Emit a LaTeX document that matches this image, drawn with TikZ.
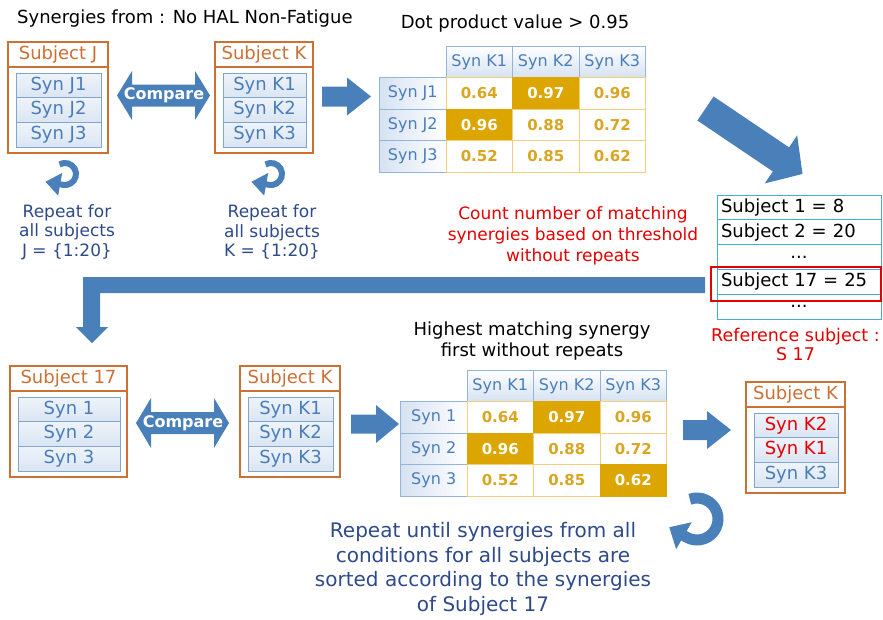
\documentclass[tikz,border=0pt]{standalone}
\usepackage{fontspec}
\setmainfont{DejaVu Sans}
\usetikzlibrary{arrows.meta,calc}

\definecolor{orng}{RGB}{204,112,52}
\definecolor{synblue}{RGB}{74,126,187}
\definecolor{synborder}{RGB}{130,165,205}
\definecolor{synfill}{RGB}{218,229,243}
\definecolor{tblborder}{RGB}{150,180,215}
\definecolor{hfill}{RGB}{214,226,242}
\definecolor{arrowblue}{RGB}{74,128,186}
\definecolor{gold}{RGB}{218,165,32}
\definecolor{goldfill}{RGB}{220,165,0}
\definecolor{goldborder}{RGB}{242,208,120}
\definecolor{navytext}{RGB}{46,74,138}
\definecolor{redtext}{RGB}{230,0,0}
\definecolor{cyanborder}{RGB}{70,170,220}

\tikzset{
  subjouter/.style={draw=orng, line width=2pt, minimum height=111pt, inner sep=0pt, outer sep=0pt},
  subjtitle/.style={text=orng, minimum height=25pt, inner sep=0pt, font=\fontsize{18}{21}\selectfont},
  synrow/.style={draw=synborder, line width=0.9pt, top color=white!55!synfill, bottom color=synfill, text=synblue, minimum height=24.7pt, inner sep=0pt, outer sep=0pt, font=\fontsize{18}{21}\selectfont},
  hcell/.style={draw=tblborder, line width=0.9pt, top color=white, bottom color=hfill, text=synblue, minimum width=66.5pt, minimum height=31.5pt, inner sep=0pt, outer sep=0pt, font=\fontsize{16}{19}\selectfont},
  rcell/.style={hcell, left color=hfill, right color=white},
  vcell/.style={draw=goldborder, line width=0.9pt, fill=white, text=gold, minimum width=66.5pt, minimum height=31.5pt, inner sep=0pt, outer sep=0pt, font=\bfseries\fontsize{15}{18}\selectfont},
  hicell/.style={vcell, draw=goldfill, fill=goldfill, text=white},
  blackttl/.style={text=black, inner sep=0pt, font=\fontsize{18}{21}\selectfont},
  repeattxt/.style={text=navytext, align=center, inner sep=0pt, font=\fontsize{17}{19.5}\selectfont},
  redtxt/.style={text=redtext, align=center, inner sep=0pt, font=\fontsize{17}{21}\selectfont},
  listrow/.style={draw=cyanborder, line width=0.9pt, minimum width=164pt, minimum height=24.8pt, inner sep=0pt, outer sep=0pt, text width=156pt, align=left, font=\fontsize{18}{21}\selectfont},
  listdots/.style={listrow, align=center},
  cmptxt/.style={text=white, inner sep=0pt, font=\bfseries\fontsize{16}{19}\selectfont},
  circsmall/.style={draw=arrowblue, line width=6pt, -{Triangle[width=22pt,length=15pt]}},
  circbig/.style={draw=arrowblue, line width=11pt, -{Triangle[width=30pt,length=17pt]}},
}

% subject box: name, x, y (top-left), outer width, title, rows
\newcommand\SubjBox[8]{%
  \node[subjouter, minimum width=#4pt, anchor=north west] (#1) at (#2,#3) {};
  \node[subjtitle, anchor=north] (#1-t) at (#1.north) {#5};
  \draw[draw=orng, line width=2pt] ([yshift=-25pt]#1.north west) -- ([yshift=-25pt]#1.north east);
  \node[synrow, minimum width=#4pt-15pt, anchor=north] (#1-1) at ([yshift=-31pt,xshift=0.5pt]#1.north) {#6};
  \node[synrow, minimum width=#4pt-15pt, anchor=north] (#1-2) at (#1-1.south) {#7};
  \node[synrow, minimum width=#4pt-15pt, anchor=north] (#1-3) at (#1-2.south) {#8};
}

% dot-product table: name, x0, y0, row labels, style of cell (3,3)
\newcommand\DotTable[7]{%
  \node[hcell] (#1-h1) at ({#2+33.25},{#3+15.75}) {Syn K1};
  \node[hcell] (#1-h2) at ({#2+99.75},{#3+15.75}) {Syn K2};
  \node[hcell] (#1-h3) at ({#2+166.25},{#3+15.75}) {Syn K3};
  \node[rcell] (#1-r1) at ({#2-33.25},{#3+47.25}) {#4};
  \node[rcell] (#1-r2) at ({#2-33.25},{#3+78.75}) {#5};
  \node[rcell] (#1-r3) at ({#2-33.25},{#3+110.25}) {#6};
  \node[vcell]  (#1-11) at ({#2+33.25},{#3+47.25}) {0.64};
  \node[hicell] (#1-12) at ({#2+99.75},{#3+47.25}) {0.97};
  \node[vcell]  (#1-13) at ({#2+166.25},{#3+47.25}) {0.96};
  \node[hicell] (#1-21) at ({#2+33.25},{#3+78.75}) {0.96};
  \node[vcell]  (#1-22) at ({#2+99.75},{#3+78.75}) {0.88};
  \node[vcell]  (#1-23) at ({#2+166.25},{#3+78.75}) {0.72};
  \node[vcell]  (#1-31) at ({#2+33.25},{#3+110.25}) {0.52};
  \node[vcell]  (#1-32) at ({#2+99.75},{#3+110.25}) {0.85};
  \node[#7]     (#1-33) at ({#2+166.25},{#3+110.25}) {0.62};
}

% block arrow: x, y (tail centre), angle, length, shaft, head width, head length
\newcommand\BlockArrow[7]{%
  \fill[arrowblue, shift={(#1,#2)}, rotate=#3]
    (0,{-#5/2}) -- ({#4-#7},{-#5/2}) -- ({#4-#7},{-#6/2}) -- (#4,0)
    -- ({#4-#7},{#6/2}) -- ({#4-#7},{#5/2}) -- (0,{#5/2}) -- cycle;
}

% double arrow: x, y (left tip), length, shaft, head width, head length
\newcommand\DblArrow[6]{%
  \fill[arrowblue, shift={(#1,#2)}]
    (0,0) -- (#6,{-#5/2}) -- (#6,{-#4/2}) -- ({#3-#6},{-#4/2}) -- ({#3-#6},{-#5/2})
    -- (#3,0) -- ({#3-#6},{#5/2}) -- ({#3-#6},{#4/2}) -- (#6,{#4/2}) -- (#6,{#5/2}) -- cycle;
}

\begin{document}
\begin{tikzpicture}[x=1pt,y=-1pt]
\useasboundingbox[fill=white] (0,0) rectangle (883,619);

% ---------- titles ----------
\node[blackttl, anchor=base west] (title) at (17,23.3) {Synergies from : No HAL Non-Fatigue};
\node[blackttl, anchor=base] (dottitle) at (515,28.3) {Dot product value > 0.95};

% ---------- top row ----------
\SubjBox{J}{8}{42}{100}{Subject J}{Syn J1}{Syn J2}{Syn J3}
\SubjBox{K}{215}{42}{98}{Subject K}{Syn K1}{Syn K2}{Syn K3}

\DblArrow{117}{95.5}{93}{22}{49}{15}
\node[cmptxt] (cmp1) at (164,95.5) {Compare};

\BlockArrow{322}{96.5}{0}{49}{20}{38}{24}

\DotTable{T}{446}{46}{Syn J1}{Syn J2}{Syn J3}{vcell}

% circular arrows (top)
\coordinate (cJ) at (65,174);
\coordinate (cK) at (271,174);
\draw[circsmall] ($(cJ)+(-120:11)$) arc[start angle=-120, end angle=100, radius=11] -- ++(-17.7,-3.1);
\draw[circsmall] ($(cK)+(-120:11)$) arc[start angle=-120, end angle=100, radius=11] -- ++(-17.7,-3.1);

\node[repeattxt] (repJ) at (67,232) {Repeat for\\all subjects\\J = \{1:20\}};
\node[repeattxt] (repK) at (272,232) {Repeat for\\all subjects\\K = \{1:20\}};

% diagonal arrow
\BlockArrow{705.5}{108.5}{-34}{117}{29}{58}{26}

% count text
\node[redtxt] (count) at (573,236) {Count number of matching\\synergies based on threshold\\without repeats};

% list of subjects
\node[listrow]  (L1) at (799,207.4) {Subject 1 = 8};
\node[listrow]  (L2) at (799,232.2) {Subject 2 = 20};
\node[listdots] (L3) at (799,257.0) {...};
\node[listrow]  (L4) at (799,281.8) {Subject 17 = 25};
\node[listdots] (L5) at (799,306.6) {...};
\node[draw=redtext, line width=2.2pt, minimum width=170pt, minimum height=34pt, inner sep=0pt] (sel) at (796,284) {};

\node[redtxt, font=\fontsize{17.5}{19}\selectfont] (refsub) at (795.5,344) {Reference subject :\\S 17};

% L-shaped arrow back to the left
\fill[arrowblue] (705,277) -- (83,277) -- (83,327) -- (76,327) -- (92,343) -- (108,327) -- (100,327) -- (100,293) -- (705,293) -- cycle;

% ---------- bottom row ----------
\SubjBox{S}{10}{366}{117}{Subject 17}{Syn 1}{Syn 2}{Syn 3}
\SubjBox{KB}{240}{366}{100}{Subject K}{Syn K1}{Syn K2}{Syn K3}

\DblArrow{136}{423}{93}{22}{50}{15}
\node[cmptxt] (cmp2) at (183,423) {Compare};

\BlockArrow{351}{424}{0}{48}{19}{38}{23}

\node[blackttl, align=center, font=\fontsize{18}{21}\selectfont] (hightitle) at (532,340.7) {Highest matching synergy\\first without repeats};

\DotTable{B}{467}{370}{Syn 1}{Syn 2}{Syn 3}{hicell}

\BlockArrow{683}{430}{0}{48}{20}{38}{24}

\SubjBox{KF}{746}{382}{99}{Subject K}{{\color{redtext}Syn K2}}{{\color{redtext}Syn K1}}{Syn K3}

% big circular arrow
\coordinate (cB) at (697,519);
\draw[circbig] ($(cB)+(-110:21)$) arc[start angle=-110, end angle=120, radius=21] -- ++(-17.3,-10);

\node[repeattxt, font=\fontsize{20}{24.5}\selectfont] (final) at (483,569) {Repeat until synergies from all\\conditions for all subjects are\\sorted according to the synergies\\of Subject 17};

\end{tikzpicture}
\end{document}
